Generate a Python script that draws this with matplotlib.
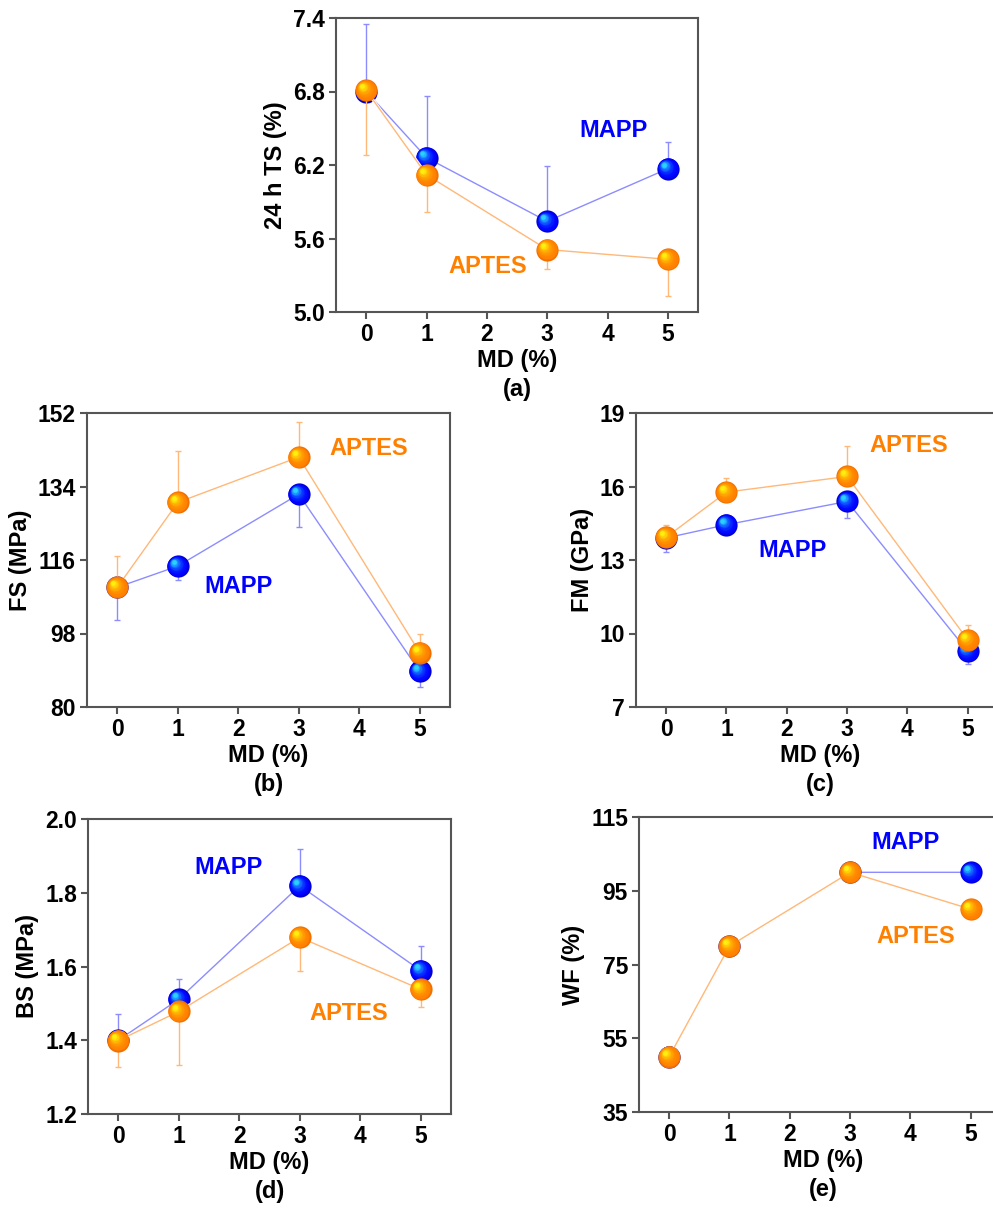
import matplotlib
matplotlib.use('Agg')
import matplotlib.pyplot as plt
import matplotlib.transforms as mtransforms
import matplotlib.patheffects as pe
import numpy as np
from matplotlib.colors import to_rgb

plt.rcParams['font.family'] = ['Liberation Sans', 'DejaVu Sans']
plt.rcParams['font.weight'] = 'bold'

# MD content (%)
md = [0, 1, 3, 5]

# (a) 24 h thickness swelling
ts_mapp = [6.80, 6.26, 5.74, 6.17]
ts_mapp_err = [0.55, 0.50, 0.45, 0.22]
ts_aptes = [6.81, 6.12, 5.51, 5.43]
ts_aptes_err = [0.53, 0.30, 0.16, 0.30]

# (b) flexural strength
fs_mapp = [109.3, 114.5, 132.1, 88.7]
fs_mapp_err = [8.0, 3.3, 8.1, 3.7]
fs_aptes = [109.3, 130.1, 141.2, 93.3]
fs_aptes_err = [7.8, 12.5, 8.6, 4.7]

# (c) flexural modulus
fm_mapp = [13.90, 14.44, 15.39, 9.27]
fm_mapp_err = [0.56, 0.30, 0.67, 0.52]
fm_aptes = [13.93, 15.77, 16.41, 9.74]
fm_aptes_err = [0.50, 0.57, 1.25, 0.59]

# (d) bonding strength
bs_mapp = [1.40, 1.511, 1.819, 1.589]
bs_mapp_err = [0.072, 0.056, 0.099, 0.067]
bs_aptes = [1.399, 1.478, 1.679, 1.538]
bs_aptes_err = [0.071, 0.146, 0.090, 0.047]

# (e) wood failure
wf_mapp = [50, 80, 100, 100]
wf_aptes = [50, 80, 100, 90]

BLUE = '#0000ff'
ORANGE = '#ff8000'
BLUE_LINE = '#8c8cff'
ORANGE_LINE = '#ffb878'

W, H = 993, 1209
fig = plt.figure(figsize=(W / 100, H / 100), dpi=100)


def px_axes(left, top, right, bottom):
    return fig.add_axes([left / W, 1 - bottom / H, (right - left) / W, (bottom - top) / H])


def mix(c1, c2, f):
    a = np.array(to_rgb(c1))
    b = np.array(to_rgb(c2))
    return tuple(a + (b - a) * f)


def spheres(ax, x, y, dark, base, light, z, size=16):
    n = 16
    ax.plot(x, y, 'o', ms=size, color=dark, mec='none', ls='none', zorder=z)
    for i in range(1, n):
        f = i / n
        s = size * (1 - 0.82 * f) - 0.5
        col = mix(base, light, f ** 2.2)
        d = f * size * 0.2 / 72
        off = mtransforms.ScaledTranslation(-d, d, fig.dpi_scale_trans)
        ax.plot(x, y, 'o', ms=s, color=col, mec='none', ls='none',
                transform=ax.transData + off, zorder=z)


def series(ax, y, err, up, line_col, dark, base, light, z, halo=False):
    effects = [pe.Stroke(linewidth=2.2, foreground='white'), pe.Normal()] if halo else None
    ax.plot(md, y, '-', color=line_col, lw=1.0, zorder=z, path_effects=effects)
    if err is not None:
        zeros = [0] * len(err)
        yerr = [zeros, err] if up else [err, zeros]
        ax.errorbar(md, y, yerr=yerr, fmt='none', ecolor=line_col, elinewidth=1.0,
                    capsize=2.5, capthick=1.0, zorder=z)
    spheres(ax, md, y, dark, base, light, z + 0.5)


def style(ax, ylim, yticks, ylabel, fmt, panel):
    ax.set_xlim(-0.5, 5.5)
    ax.set_ylim(*ylim)
    ax.set_xticks(range(6))
    ax.set_yticks(yticks)
    ax.set_yticklabels([fmt.format(v) for v in yticks])
    for sp in ax.spines.values():
        sp.set_color('#555555')
        sp.set_linewidth(1.5)
    ax.tick_params(direction='out', length=5, width=1.5, color='#555555',
                   labelsize=16.5, pad=3, top=False, right=False)
    for lab in ax.get_xticklabels() + ax.get_yticklabels():
        lab.set_fontweight('bold')
    ax.set_xlabel('MD (%)', fontsize=17, fontweight='bold', labelpad=2)
    ax.set_ylabel(ylabel, fontsize=17, fontweight='bold', labelpad=4)
    ax.text(0.5, -0.262, panel, transform=ax.transAxes, ha='center', va='center',
            fontsize=17, fontweight='bold')


def both(ax, ym, em, up_m, ya, ea, up_a):
    series(ax, ym, em, up_m, BLUE_LINE, '#0000d0', BLUE, '#30f0ff', 2)
    series(ax, ya, ea, up_a, ORANGE_LINE, '#f07000', ORANGE, '#ffff10', 4, halo=True)


def note(ax, x, y, s, c):
    ax.text(x, y, s, color=c, fontsize=17, fontweight='bold', ha='center', va='center')


# (a)
ax = px_axes(336, 18, 698, 312)
both(ax, ts_mapp, ts_mapp_err, True, ts_aptes, ts_aptes_err, False)
style(ax, (5.0, 7.4), [5.0, 5.6, 6.2, 6.8, 7.4], '24 h TS (%)', '{:.1f}', '(a)')
note(ax, 4.1, 6.48, 'MAPP', BLUE)
note(ax, 2.02, 5.37, 'APTES', ORANGE)

# (b)
ax = px_axes(87, 413, 450, 707)
both(ax, fs_mapp, fs_mapp_err, False, fs_aptes, fs_aptes_err, True)
style(ax, (80, 152), [80, 98, 116, 134, 152], 'FS (MPa)', '{:.0f}', '(b)')
note(ax, 2.0, 109.5, 'MAPP', BLUE)
note(ax, 4.16, 143.4, 'APTES', ORANGE)

# (c)
ax = px_axes(636, 413, 1004, 707)
both(ax, fm_mapp, fm_mapp_err, False, fm_aptes, fm_aptes_err, True)
style(ax, (7, 19), [7, 10, 13, 16, 19], 'FM (GPa)', '{:.0f}', '(c)')
ax.set_xlim(-0.5, 5.6)
note(ax, 2.1, 13.38, 'MAPP', BLUE)
note(ax, 4.02, 17.68, 'APTES', ORANGE)

# (d)
ax = px_axes(88, 819, 451, 1114)
both(ax, bs_mapp, bs_mapp_err, True, bs_aptes, bs_aptes_err, False)
style(ax, (1.2, 2.0), [1.2, 1.4, 1.6, 1.8, 2.0], 'BS (MPa)', '{:.1f}', '(d)')
note(ax, 1.82, 1.868, 'MAPP', BLUE)
note(ax, 3.81, 1.472, 'APTES', ORANGE)

# (e)
ax = px_axes(639, 817, 1007, 1112)
both(ax, wf_mapp, None, True, wf_aptes, None, True)
style(ax, (35, 115), [35, 55, 75, 95, 115], 'WF (%)', '{:.0f}', '(e)')
ax.set_xlim(-0.5, 5.6)
note(ax, 3.92, 108.1, 'MAPP', BLUE)
note(ax, 4.08, 82.6, 'APTES', ORANGE)

fig.savefig('out.png', dpi=100)
